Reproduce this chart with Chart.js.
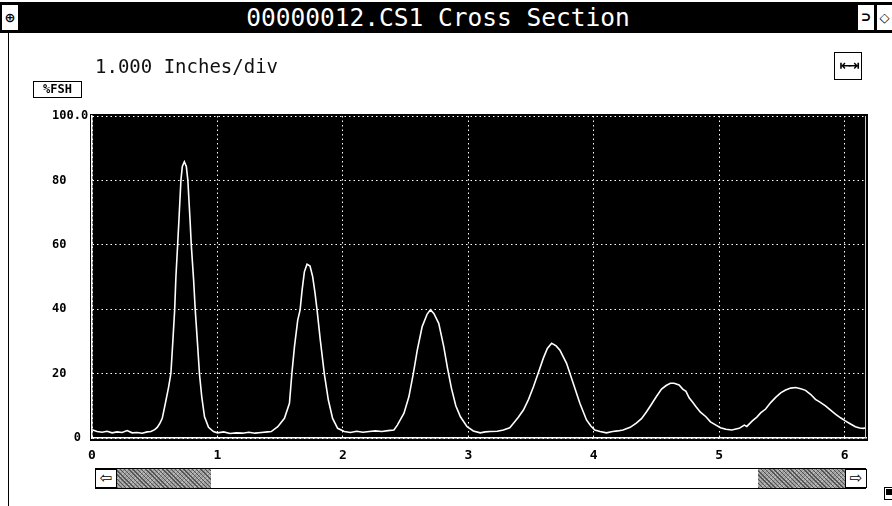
<!DOCTYPE html>
<html>
<head>
<meta charset="utf-8">
<script src="https://cdn.jsdelivr.net/npm/chart.js@4.4.1/dist/chart.umd.min.js"></script>
<style>
  html, body { margin: 0; padding: 0; background: #fff; }
  #wrap { position: relative; width: 892px; height: 506px; overflow: hidden; background: #fff; font-family: "DejaVu Sans Mono", monospace; }
  #c { position: absolute; left: 0; top: 0; }
  .abs { position: absolute; box-sizing: border-box; }
  #titlebar { left: 0; top: 2px; width: 892px; height: 31px; background: #000; }
  #title { left: 20px; top: 2px; width: 836px; height: 31px; line-height: 31px; text-align: center; color: #fff; font-size: 24.5px; }
  .tbtn { top: 4px; height: 27px; background: #fff; border: 1px solid #000; color: #000; text-align: center; line-height: 25px; font-weight: bold; }
  #leftline { left: 8px; top: 33px; width: 1px; height: 473px; background: #000; }
  #scale { left: 95px; top: 55px; font-size: 19px; color: #111; }
  #fsh { left: 33px; top: 81px; width: 49px; height: 17px; border: 1.5px solid #000; font-size: 12px; font-weight: bold; text-align: center; line-height: 14px; color: #000; }
  #zoombtn { left: 834px; top: 52px; width: 28px; height: 28px; border: 1.5px solid #000; font-size: 14px; font-weight: bold; text-align: center; line-height: 25px; color: #000; font-family: "DejaVu Sans", sans-serif; letter-spacing: -3px; }
  #scroll { left: 95px; top: 468px; width: 771px; height: 21px; border: 1px solid #000; background: #fff; }
  .dither { top: 0; height: 19px; background-color: #9a9a9a; background-image: repeating-linear-gradient(45deg, #555 0 1px, transparent 1px 3px), repeating-linear-gradient(-45deg, #bbb 0 1px, transparent 1px 3px); }
  .arrow { top: 0; width: 22px; height: 19px; background: #fff; border: 1px solid #000; text-align: center; line-height: 17px; font-size: 15px; color: #000; font-family: "DejaVu Sans", sans-serif; }
  #corner { left: 884px; top: 487px; width: 10px; height: 13px; border: 1px solid #000; background: #fff; }
  #corner div { position: absolute; left: 1px; top: 1px; width: 6px; height: 6px; background: #000; }
</style>
</head>
<body>
<div id="wrap">
  <canvas id="c" width="892" height="506"></canvas>
  <div id="titlebar" class="abs"></div>
  <div id="title" class="abs">00000012.CS1 Cross Section</div>
  <div class="abs tbtn" style="left:1px;width:18px;font-size:13px;font-family:'DejaVu Sans',sans-serif;">&#8853;</div>
  <div class="abs tbtn" style="left:857px;width:18px;font-size:15px;">&#8835;</div>
  <div class="abs tbtn" style="left:876px;width:17px;font-size:13px;font-family:'DejaVu Sans',sans-serif;">&#9671;</div>
  <div id="leftline" class="abs"></div>
  <div id="scale" class="abs">1.000 Inches/div</div>
  <div id="fsh" class="abs">%FSH</div>
  <div id="zoombtn" class="abs">&#8676;&#8677;</div>
  <div id="scroll" class="abs">
    <div class="abs arrow" style="left:-1px;">&#8678;</div>
    <div class="abs dither" style="left:21px;width:94px;"></div>
    <div class="abs dither" style="left:662px;width:88px;"></div>
    <div class="abs arrow" style="left:749px;">&#8680;</div>
  </div>
  <div id="corner" class="abs"><div></div></div>
</div>
<script>
// Position along the cross section (inches)
const positions = [
  0.00, 0.04, 0.08, 0.12, 0.16, 0.20, 0.24, 0.28, 0.32, 0.36, 0.40, 0.44, 0.47, 0.50, 0.52, 0.54, 0.56,
  0.585, 0.611, 0.629, 0.645, 0.659, 0.669, 0.683, 0.693, 0.709, 0.720, 0.736, 0.752, 0.764, 0.783, 0.791,
  0.810, 0.823, 0.841, 0.857, 0.875, 0.897, 0.929, 0.968,
  1.00, 1.05, 1.10, 1.15, 1.20, 1.25, 1.30, 1.35, 1.40, 1.429, 1.481, 1.534, 1.574, 1.593, 1.614, 1.640,
  1.659, 1.675, 1.693, 1.714, 1.738, 1.759, 1.778, 1.794, 1.820, 1.852, 1.884, 1.918, 1.958,
  2.011, 2.06, 2.11, 2.16, 2.21, 2.26, 2.31, 2.36, 2.407, 2.434, 2.487, 2.526, 2.561, 2.593, 2.632,
  2.672, 2.698, 2.725, 2.764, 2.804, 2.835, 2.865, 2.90, 2.937, 2.990,
  3.04, 3.095, 3.135, 3.175, 3.23, 3.28, 3.33, 3.36, 3.40, 3.439, 3.48, 3.519, 3.56, 3.598, 3.63,
  3.664, 3.70, 3.730, 3.783, 3.836, 3.889, 3.942, 3.975,
  4.008, 4.05, 4.101, 4.15, 4.19, 4.233, 4.29, 4.339, 4.38, 4.418, 4.46, 4.498, 4.54, 4.577, 4.610,
  4.640, 4.680, 4.709, 4.735, 4.76, 4.79, 4.815, 4.85, 4.894, 4.93, 4.974,
  5.01, 5.053, 5.10, 5.159, 5.20, 5.22, 5.264, 5.30, 5.33, 5.370, 5.41, 5.450, 5.49, 5.529, 5.57,
  5.609, 5.65, 5.688, 5.73, 5.767, 5.80, 5.847, 5.89, 5.926, 5.97,
  6.005, 6.04, 6.085, 6.12, 6.151, 6.17
];
// Signal amplitude (% full screen height)
const amplitudes = [
  2.6, 2.0, 1.8, 2.1, 1.6, 1.9, 1.7, 2.3, 1.6, 1.7, 1.5, 1.9, 2.0, 2.6, 3.3, 4.5, 6.1,
  10.8, 15.9, 20.1, 30.4, 39.8, 50.1, 60.2, 67.7, 80.1, 84.3, 85.8, 84.3, 80.1, 66.7, 60.2,
  49.1, 39.8, 29.4, 19.8, 12.8, 6.6, 3.3, 2.0,
  1.6, 1.9, 1.4, 1.6, 1.5, 1.8, 1.5, 1.7, 1.9, 2.0, 3.5, 6.1, 10.8, 19.9, 28.4, 36.6,
  39.8, 46.0, 51.6, 54.0, 53.4, 50.1, 45.0, 39.8, 30.4, 19.9, 11.8, 6.1, 3.0,
  2.0, 1.7, 2.1, 1.8, 2.0, 2.2, 2.0, 2.3, 2.5, 4.0, 7.7, 12.8, 19.9, 27.3, 34.6,
  38.5, 39.8, 38.7, 35.6, 28.4, 21.5, 15.5, 10.0, 6.6, 3.5,
  2.2, 1.6, 1.9, 2.0, 2.1, 2.5, 3.2, 4.6, 6.5, 8.7, 12.0, 15.9, 20.5, 24.8, 27.8,
  29.4, 28.6, 27.3, 23.2, 17.0, 10.8, 5.6, 3.8,
  2.5, 2.0, 1.6, 2.0, 2.2, 2.5, 3.3, 4.6, 6.0, 8.0, 10.5, 12.8, 15.2, 16.3, 17.0,
  17.0, 16.5, 15.2, 14.5, 12.5, 11.0, 9.7, 8.0, 6.6, 5.0, 4.0,
  3.2, 2.7, 2.5, 3.0, 4.0, 3.6, 5.3, 6.5, 7.8, 9.0, 11.0, 12.6, 14.0, 14.9, 15.5,
  15.7, 15.3, 14.8, 13.5, 12.0, 11.2, 10.0, 8.6, 7.4, 6.2,
  5.3, 4.5, 3.5, 3.1, 3.0, 3.2
];
const xTickValues = [0, 1, 2, 3, 4, 5, 6];
const yTickValues = [0, 20, 40, 60, 80, 100];
const yTickLabels = { 100: '100.0', 80: '80', 60: '60', 40: '40', 20: '20', 0: '   0' };

const points = positions.map((x, i) => ({ x: x, y: amplitudes[i] }));

const blackArea = {
  id: 'blackArea',
  beforeDraw(chart) {
    const a = chart.chartArea, ctx = chart.ctx;
    ctx.save();
    ctx.fillStyle = '#000';
    ctx.fillRect(a.left - 2, a.top - 2, a.right - a.left + 4, a.bottom - a.top + 5);
    ctx.restore();
  },
  afterDatasetsDraw(chart) {
    const a = chart.chartArea, ctx = chart.ctx;
    ctx.save();
    ctx.strokeStyle = '#c8c8c8';
    ctx.lineWidth = 1;
    ctx.beginPath();
    ctx.moveTo(a.right - 0.5, a.top);
    ctx.lineTo(a.right - 0.5, a.bottom);
    ctx.stroke();
    ctx.restore();
  }
};

new Chart(document.getElementById('c'), {
  type: 'line',
  data: {
    datasets: [{
      data: points,
      borderColor: '#ffffff',
      borderWidth: 1.6,
      pointRadius: 0,
      tension: 0,
      fill: false
    }]
  },
  options: {
    responsive: false,
    animation: false,
    events: [],
    layout: { padding: { left: 52, top: 116, right: 26, bottom: 38 } },
    plugins: { legend: { display: false }, tooltip: { enabled: false } },
    scales: {
      x: {
        type: 'linear',
        min: 0,
        max: 6.17,
        afterFit(s) { s.height = 30; },
        afterBuildTicks(s) { s.ticks = xTickValues.map(v => ({ value: v })); },
        ticks: {
          color: '#000',
          padding: 10,
          font: { family: 'DejaVu Sans Mono', size: 13, weight: 'bold' },
          callback: v => String(v)
        },
        grid: { color: '#ffffff', lineWidth: 1, drawTicks: false },
        border: { display: true, color: '#fff', width: 1.5, dash: [1.5, 3] }
      },
      y: {
        min: 0,
        max: 100,
        afterFit(s) { s.width = 40; },
        afterBuildTicks(s) { s.ticks = yTickValues.map(v => ({ value: v })); },
        ticks: {
          color: '#000',
          crossAlign: 'far',
          font: { family: 'DejaVu Sans Mono', size: 12, weight: 'bold' },
          callback: v => yTickLabels[v]
        },
        grid: { color: '#ffffff', lineWidth: 1, drawTicks: false },
        border: { display: true, color: '#fff', width: 1.5, dash: [1.5, 3] }
      }
    }
  },
  plugins: [blackArea]
});
</script>
</body>
</html>
